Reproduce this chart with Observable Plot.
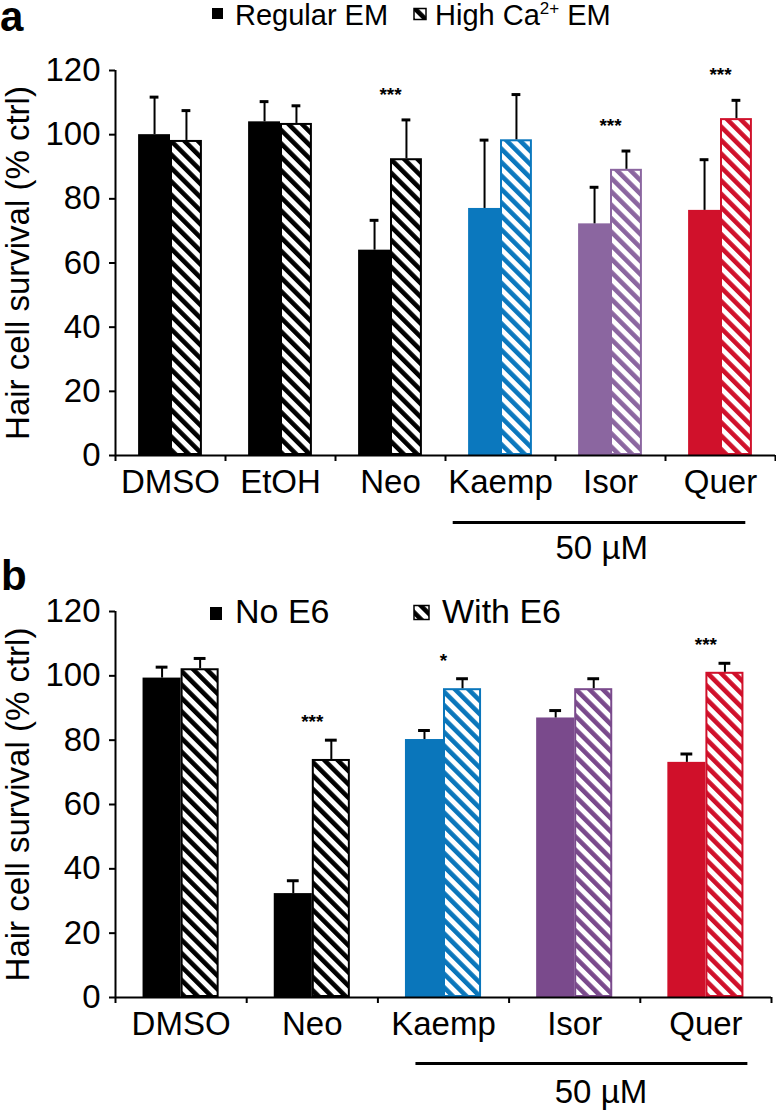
<!DOCTYPE html>
<html>
<head>
<meta charset="utf-8">
<script src="https://cdn.jsdelivr.net/npm/d3@7"></script>
<script src="https://cdn.jsdelivr.net/npm/@observablehq/plot@0.6"></script>
<style>
  html, body { margin: 0; padding: 0; background: white; }
  #wrap { position: relative; width: 776px; height: 1110px; overflow: hidden; font-family: "Liberation Sans", Arial, sans-serif; }
  #wrap > svg { position: absolute; left: 0; }
</style>
</head>
<body>
<div id="wrap"></div>
<script>
// ---------- data ----------
const yTicks = [0, 20, 40, 60, 80, 100, 120];
const yLabel = "Hair cell survival (% ctrl)";
const concLabel = "50 µM";

// panel a
const categoriesA = ["DMSO", "EtOH", "Neo", "Kaemp", "Isor", "Quer"];
const colorsA = ["#000000", "#000000", "#000000", "#0b78be", "#8b66a0", "#d0112b"];
const seriesA = ["Regular EM", "High Ca", "2+", " EM"];
const regularEM = [100, 104, 64, 77, 72.2, 76.4];
const regularEMErr = [11.7, 6.3, 9.3, 21.3, 11.4, 15.8];
const highCaEM = [98.2, 103.5, 92.5, 98.4, 89.2, 105];
const highCaEMErr = [9.3, 5.5, 12.1, 14.1, 5.7, 5.7];
const starsA = ["", "", "***", "", "***", "***"];

// panel b
const categoriesB = ["DMSO", "Neo", "Kaemp", "Isor", "Quer"];
const colorsB = ["#000000", "#000000", "#0a76bb", "#7a4a8c", "#d0102a"];
const seriesB = ["No E6", "With E6"];
const noE6 = [99.3, 32.3, 80.2, 86.9, 73.1];
const noE6Err = [3.4, 4, 2.8, 2.3, 2.6];
const withE6 = [102.2, 74, 96, 96, 101.1];
const withE6Err = [3.2, 6, 3.1, 3.1, 2.8];
const starsB = ["", "***", "*", "", "***"];

// ---------- drawing ----------
const FONT = "'Liberation Sans', Arial, sans-serif";

function panel(cfg) {
  const uniq = [...new Set(cfg.colors)];
  const pid = c => `${cfg.id}-hatch-${uniq.indexOf(c)}`;
  const rows = cfg.categories.map((name, i) => ({
    i, name,
    color: cfg.colors[i],
    hatch: `url(#${pid(cfg.colors[i])})`,
    a: cfg.solid[i], aErr: cfg.solidErr[i],
    b: cfg.hatched[i], bErr: cfg.hatchedErr[i],
    star: cfg.stars[i]
  }));
  const n = rows.length, w = 0.29, ch = cfg.capHalf;
  const idx = name => cfg.categories.indexOf(name);
  const defs = () => {
    const d = d3.create("svg:defs");
    uniq.forEach(c => {
      const p = d.append("pattern").attr("id", pid(c))
        .attr("patternUnits", "userSpaceOnUse")
        .attr("width", 9.5).attr("height", 9.5)
        .attr("patternTransform", "rotate(-45)");
      p.append("rect").attr("width", 9.5).attr("height", 9.5).attr("fill", "white");
      p.append("rect").attr("width", 4.6).attr("height", 9.5).attr("fill", c);
    });
    return d.node();
  };
  return Plot.plot({
    width: 776,
    height: cfg.height,
    marginTop: cfg.marginTop,
    marginBottom: cfg.marginBottom,
    marginLeft: 115,
    marginRight: cfg.marginRight,
    x: {domain: [0, n], axis: null},
    y: {domain: [0, 120]},
    color: {type: "identity"},
    style: {fontFamily: FONT, fontSize: "33px", color: "black", background: "transparent", overflow: "visible"},
    marks: [
      defs,
      // solid bars
      Plot.rect(rows, {x1: d => d.i + 0.5 - w, x2: d => d.i + 0.5, y1: 0, y2: "a", fill: "color"}),
      // hatched bars
      Plot.rect(rows, {x1: d => d.i + 0.5, x2: d => d.i + 0.5 + w, y1: 0, y2: "b",
        fill: "hatch", stroke: "color", strokeWidth: 2, inset: 1}),
      // error bars (upper only)
      Plot.ruleX(rows, {x: d => d.i + 0.5 - w / 2, y1: "a", y2: d => d.a + d.aErr, stroke: "black", strokeWidth: 2}),
      Plot.ruleY(rows, {y: d => d.a + d.aErr, x1: d => d.i + 0.5 - w / 2 - ch, x2: d => d.i + 0.5 - w / 2 + ch, stroke: "black", strokeWidth: 3}),
      Plot.ruleX(rows, {x: d => d.i + 0.5 + w / 2, y1: "b", y2: d => d.b + d.bErr, stroke: "black", strokeWidth: 2}),
      Plot.ruleY(rows, {y: d => d.b + d.bErr, x1: d => d.i + 0.5 + w / 2 - ch, x2: d => d.i + 0.5 + w / 2 + ch, stroke: "black", strokeWidth: 3}),
      // significance stars
      Plot.text(rows.filter(d => d.star), {x: d => d.i + 0.5, y: d => d.b + d.bErr, dy: cfg.starDy,
        text: "star", fontSize: 19, fontWeight: "bold", lineAnchor: "middle"}),
      // axes
      Plot.ruleX([0], {stroke: "black", strokeWidth: 2}),
      Plot.ruleY([0], {stroke: "black", strokeWidth: 2}),
      Plot.axisY({ticks: yTicks, tickSize: 6, tickPadding: 9, strokeWidth: 2, fontSize: 33, label: null}),
      Plot.ruleX(d3.range(0, n + 1), {x: d => d, y1: 0, y2: 0, insetBottom: -6, stroke: "black", strokeWidth: 2}),
      Plot.text(rows, {x: d => d.i + 0.5, frameAnchor: "bottom", dy: 37, lineAnchor: "bottom", text: "name", fontSize: 33}),
      Plot.text([yLabel], {frameAnchor: "left", dx: -97, rotate: -90, text: d => d, fontSize: 33,
        textAnchor: "middle", lineAnchor: "middle"}),
      // concentration annotation
      Plot.ruleY([0], {x1: idx(cfg.conc[0]) + cfg.concFrom, x2: idx(cfg.conc[1]) + cfg.concTo, dy: cfg.lineDy, stroke: "black", strokeWidth: 3}),
      Plot.text([concLabel], {x: idx(cfg.conc[2]) + cfg.concLabelAt, frameAnchor: "bottom", dy: cfg.labelDy, lineAnchor: "bottom", text: d => d, fontSize: 33})
    ]
  });
}

const wrap = document.getElementById("wrap");

const svgA = panel({
  id: "pa", categories: categoriesA, colors: colorsA,
  solid: regularEM, solidErr: regularEMErr, hatched: highCaEM, hatchedErr: highCaEMErr, stars: starsA,
  height: 560, marginTop: 70, marginBottom: 105, marginRight: 1, capHalf: 0.04, starDy: -25,
  conc: ["Kaemp", "Quer", "Isor"], concFrom: 0.07, concTo: 0.73, concLabelAt: 0.42, lineDy: 67, labelDy: 103
});
svgA.style.top = "0px";
wrap.appendChild(svgA);

const svgB = panel({
  id: "pb", categories: categoriesB, colors: colorsB,
  solid: noE6, solidErr: noE6Err, hatched: withE6, hatchedErr: withE6Err, stars: starsB,
  height: 550, marginTop: 51, marginBottom: 113, marginRight: 5, capHalf: 0.045, starDy: -18,
  conc: ["Kaemp", "Quer", "Isor"], concFrom: 0.29, concTo: 0.82, concLabelAt: 0.70, lineDy: 66, labelDy: 105
});
svgB.style.top = "560px";
wrap.appendChild(svgB);

// ---------- panel letters and legends ----------
const ov = d3.create("svg").attr("width", 776).attr("height", 1110)
  .style("top", "0px").style("pointer-events", "none")
  .attr("font-family", FONT);
const lp = ov.append("defs").append("pattern").attr("id", "leg-hatch")
  .attr("patternUnits", "userSpaceOnUse").attr("width", 9.5).attr("height", 9.5)
  .attr("patternTransform", "rotate(-45)");
lp.append("rect").attr("width", 9.5).attr("height", 9.5).attr("fill", "white");
lp.append("rect").attr("width", 4.6).attr("height", 9.5).attr("fill", "black");

ov.append("text").attr("x", 0).attr("y", 31).attr("font-size", 42).attr("font-weight", "bold").text("a");
ov.append("text").attr("x", 1).attr("y", 590).attr("font-size", 42).attr("font-weight", "bold").text("b");

// legend a
ov.append("rect").attr("x", 212).attr("y", 8).attr("width", 11).attr("height", 11).attr("fill", "black");
ov.append("text").attr("x", 235).attr("y", 25).attr("font-size", 29).text(seriesA[0]);
ov.append("rect").attr("x", 414).attr("y", 8.5).attr("width", 12).attr("height", 11)
  .attr("fill", "url(#leg-hatch)").attr("stroke", "black").attr("stroke-width", 1.5);
const t2 = ov.append("text").attr("x", 435).attr("y", 25).attr("font-size", 29);
t2.append("tspan").text(seriesA[1]);
t2.append("tspan").attr("dy", -11).attr("font-size", 17).text(seriesA[2]);
t2.append("tspan").attr("dy", 11).text(seriesA[3]);

// legend b
ov.append("rect").attr("x", 210).attr("y", 607).attr("width", 12).attr("height", 13).attr("fill", "black");
ov.append("text").attr("x", 235).attr("y", 623).attr("font-size", 34).text(seriesB[0]);
ov.append("rect").attr("x", 414).attr("y", 605.5).attr("width", 15).attr("height", 14)
  .attr("fill", "url(#leg-hatch)").attr("stroke", "black").attr("stroke-width", 1.5);
ov.append("text").attr("x", 442).attr("y", 623).attr("font-size", 34).text(seriesB[1]);

wrap.appendChild(ov.node());
</script>
</body>
</html>
